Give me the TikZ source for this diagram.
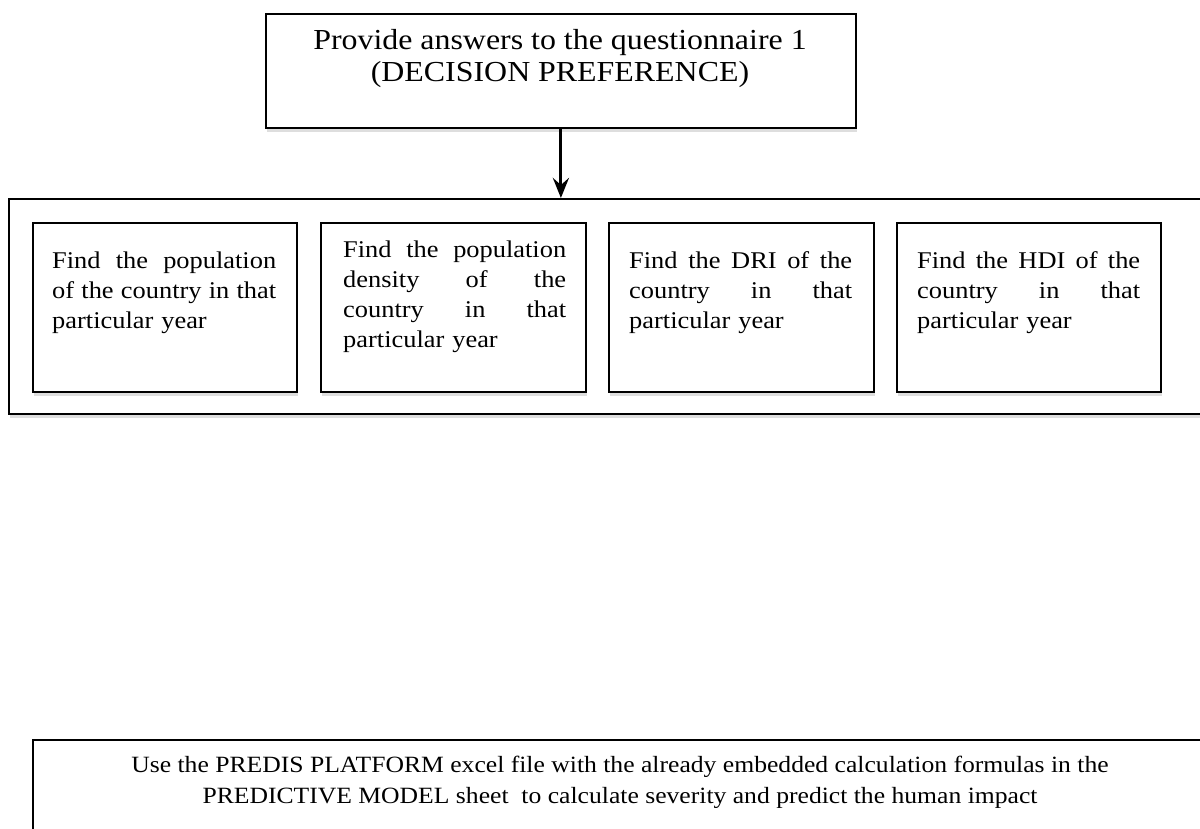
\documentclass[tikz,border=0pt]{standalone}
\usepackage{fontspec}
\setmainfont[FakeStretch=1.1]{Liberation Serif}
\usetikzlibrary{arrows.meta,shadows}

% a justified line: words separated by \hfill fill the given width
\newcommand\jl[2][223pt]{\makebox[#1]{#2}}

\begin{document}
\begin{tikzpicture}[x=1pt,y=-1pt,
  frame/.style={draw=black, line width=1.8pt, fill=white, inner sep=0pt,
    anchor=north west,
    drop shadow={shadow xshift=1.5pt, shadow yshift=-4pt, fill=black, opacity=0.13}},
  para/.style={anchor=base west, inner sep=0pt, align=left, text width=#1,
    font=\fontsize{24}{30}\selectfont},
  flow/.style={line width=3pt, -{Stealth[length=20pt, width=16pt, inset=7pt]}}
]
\useasboundingbox (0,0) rectangle (1200,829);
\clip (0,0) rectangle (1200,829);

% top step
\node[frame, minimum width=590pt, minimum height=114pt] (top) at (265,13) {};
\node[anchor=base, inner sep=0pt, align=center,
  font=\fontsize{29}{32}\selectfont] (toptext) at (560,82)
  {Provide answers to the questionnaire 1\\(DECISION PREFERENCE)};

% group of data to look up
\node[frame, minimum width=1202pt, minimum height=215pt] (group) at (8,198) {};

\node[frame, minimum width=264pt, minimum height=169pt] (b1) at (32,222) {};
\node[frame, minimum width=265pt, minimum height=169pt] (b2) at (320,222) {};
\node[frame, minimum width=265pt, minimum height=169pt] (b3) at (608,222) {};
\node[frame, minimum width=264pt, minimum height=169pt] (b4) at (896,222) {};

\node[para=224pt] (t1) at (52,269)
  {\jl[224pt]{Find\hfill the\hfill population}\\
   \jl[224pt]{of\hfill the\hfill country\hfill in\hfill that}\\
   particular year};
\node[para=223pt] (t2) at (343,258)
  {\jl{Find\hfill the\hfill population}\\
   \jl{density\hfill of\hfill the}\\
   \jl{country\hfill in\hfill that}\\
   particular year};
\node[para=223pt] (t3) at (629,269)
  {\jl{Find\hfill the\hfill DRI\hfill of\hfill the}\\
   \jl{country\hfill in\hfill that}\\
   particular year};
\node[para=223pt] (t4) at (917,269)
  {\jl{Find\hfill the\hfill HDI\hfill of\hfill the}\\
   \jl{country\hfill in\hfill that}\\
   particular year};

\draw[flow] (top.south) -- (top.south |- group.north);

% final step
\node[frame, minimum width=1176pt, minimum height=140pt] (model) at (32,739) {};
\node[anchor=base, inner sep=0pt, align=center,
  font=\fontsize{23.3}{31}\selectfont] (modeltext) at (620,803)
  {Use the PREDIS PLATFORM excel file with the already embedded calculation formulas in the\\
   PREDICTIVE MODEL sheet\ \ to calculate severity and predict the human impact};
\end{tikzpicture}
\end{document}
